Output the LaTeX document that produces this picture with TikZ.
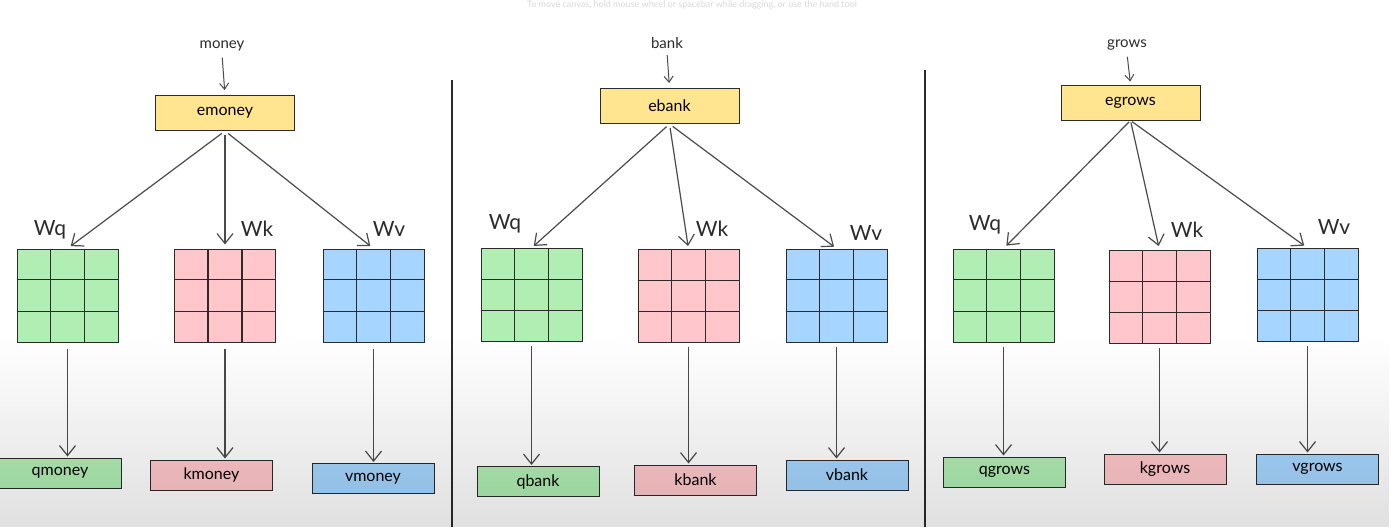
\documentclass[tikz,border=0pt]{standalone}
\usepackage{fontspec}
\setmainfont{Lato}
\usetikzlibrary{arrows.meta,calc,fadings}

\definecolor{ink}{HTML}{2B2B2B}
\definecolor{efill}{HTML}{FFE58F}
\definecolor{qfill}{HTML}{B0EEB3}
\definecolor{kfill}{HTML}{FFC7CB}
\definecolor{vfill}{HTML}{A6D6FF}
\definecolor{hint}{HTML}{D9D9D9}

\tikzfading[name=floorshade, top color=transparent!100, bottom color=transparent!0]

\tikzset{
  x=1pt, y=-1pt,
  embbox/.style={draw=ink, line width=1pt, fill=efill, minimum width=139pt,
    minimum height=35pt, inner sep=0pt, font=\fontsize{16}{18}\selectfont},
  outbox/.style={draw=ink, line width=1pt, minimum width=122pt,
    minimum height=30pt, inner sep=0pt, font=\fontsize{16}{18}\selectfont},
  wmat/.style={draw=ink, line width=1pt, minimum width=101pt,
    minimum height=93pt, inner sep=0pt},
  gridline/.style={draw=ink, line width=1.2pt},
  wlabel/.style={font=\fontsize{21}{22}\selectfont, text=ink},
  token/.style={font=\fontsize{15}{17}\selectfont, text=ink},
  arr/.style={draw=ink!85, line width=1.2pt, -{Straight Barb[length=10pt,width=16pt]}},
  smallarr/.style={draw=ink!85, line width=1pt, -{Straight Barb[length=6pt,width=9pt]}},
  divider/.style={draw=ink, line width=1.2pt},
}

% a 3x3 weight matrix: name, centre x, centre y, fill colour
\newcommand\weightgrid[4]{%
  \node[wmat, fill=#4] (#1) at (#2,#3) {};
  \draw[gridline] ($(#1.north west)!1/3!(#1.north east)$) -- ($(#1.south west)!1/3!(#1.south east)$);
  \draw[gridline] ($(#1.north west)!2/3!(#1.north east)$) -- ($(#1.south west)!2/3!(#1.south east)$);
  \draw[gridline] ($(#1.north west)!1/3!(#1.south west)$) -- ($(#1.north east)!1/3!(#1.south east)$);
  \draw[gridline] ($(#1.north west)!2/3!(#1.south west)$) -- ($(#1.north east)!2/3!(#1.south east)$);
}

\begin{document}
\begin{tikzpicture}
\useasboundingbox (0,0) rectangle (1391,527);
\fill[white] (0,0) rectangle (1391,527);

% canvas hint along the top edge
\node[anchor=north, inner sep=0.5pt, text=hint, font=\fontsize{9}{10}\selectfont] (hinttext) at (692,0)
  {To move canvas, hold mouse wheel or spacebar while dragging, or use the hand tool};

% ---------- money ----------
\node[token] (in1) at (222,46) {money};
\node[embbox] (e1) at (225,113) {emoney};
\weightgrid{q1}{67.5}{295.5}{qfill}
\weightgrid{k1}{225}{295.5}{kfill}
\weightgrid{v1}{373.5}{295.5}{vfill}
\node[wlabel] (lq1) at (50,230) {Wq};
\node[wlabel] (lk1) at (257,229) {Wk};
\node[wlabel] (lv1) at (389,229) {Wv};
\node[outbox, fill=qfill] (oq1) at (60,473) {qmoney};
\node[outbox, fill=kfill] (ok1) at (211.5,475) {kmoney};
\node[outbox, fill=vfill] (ov1) at (373,478.5) {vmoney};

\draw[smallarr, shorten <=3pt, shorten >=5pt] (in1.south) -- (e1.north);
\foreach \m in {q1,k1,v1} \draw[arr, shorten <=4pt, shorten >=4pt] (e1.south) -- (\m.north);
\foreach \m/\o in {q1/oq1,k1/ok1,v1/ov1}
  \draw[arr, shorten <=6pt, shorten >=1pt] (\m.south) -- (\m.south |- \o.north);

% ---------- bank ----------
\node[token] (in2) at (667,43) {bank};
\node[embbox] (e2) at (669.5,106) {ebank};
\weightgrid{q2}{531.5}{295}{qfill}
\weightgrid{k2}{688.5}{296}{kfill}
\weightgrid{v2}{836.5}{295.5}{vfill}
\node[wlabel] (lq2) at (505,224) {Wq};
\node[wlabel] (lk2) at (712,229) {Wk};
\node[wlabel] (lv2) at (866,233) {Wv};
\node[outbox, fill=qfill] (oq2) at (538,481.5) {qbank};
\node[outbox, fill=kfill] (ok2) at (695.5,480) {kbank};
\node[outbox, fill=vfill] (ov2) at (847,475) {vbank};

\draw[smallarr, shorten <=3pt, shorten >=5pt] (in2.south) -- (e2.north);
\foreach \m in {q2,k2,v2} \draw[arr, shorten <=4pt, shorten >=3pt] (e2.south) -- (\m.north);
\foreach \m/\o in {q2/oq2,k2/ok2,v2/ov2}
  \draw[arr, shorten <=4pt, shorten >=1pt] (\m.south) -- (\m.south |- \o.north);

% ---------- grows ----------
\node[token] (in3) at (1127,45) {grows};
\node[embbox] (e3) at (1130.5,102.5) {egrows};
\weightgrid{q3}{1003.5}{295.5}{qfill}
\weightgrid{k3}{1159.5}{297}{kfill}
\weightgrid{v3}{1307.5}{295}{vfill}
\node[wlabel] (lq3) at (985,225) {Wq};
\node[wlabel] (lk3) at (1187,230) {Wk};
\node[wlabel] (lv3) at (1334,227) {Wv};
\node[outbox, fill=qfill] (oq3) at (1004.5,472) {qgrows};
\node[outbox, fill=kfill] (ok3) at (1165,469) {kgrows};
\node[outbox, fill=vfill] (ov3) at (1317.5,469) {vgrows};

\draw[smallarr, shorten <=3pt, shorten >=3pt] (in3.south) -- (e3.north);
\foreach \m in {q3,k3,v3} \draw[arr, shorten <=2pt, shorten >=4pt] (e3.south) -- (\m.north);
\foreach \m/\o in {q3/oq3,k3/ok3,v3/ov3}
  \draw[arr, shorten <=4pt, shorten >=1pt] (\m.south) -- (\m.south |- \o.north);

% ---------- panel dividers ----------
\coordinate (d1t) at (452,80);  \coordinate (d1b) at (452,527);
\coordinate (d2t) at (925,70);  \coordinate (d2b) at (925,527);
\draw[divider] (d1t) -- (d1b);
\draw[divider] (d2t) -- (d2b);

% soft grey floor towards the bottom
\fill[black, opacity=0.12, path fading=floorshade] (0,335) rectangle (1391,527);
\end{tikzpicture}
\end{document}
